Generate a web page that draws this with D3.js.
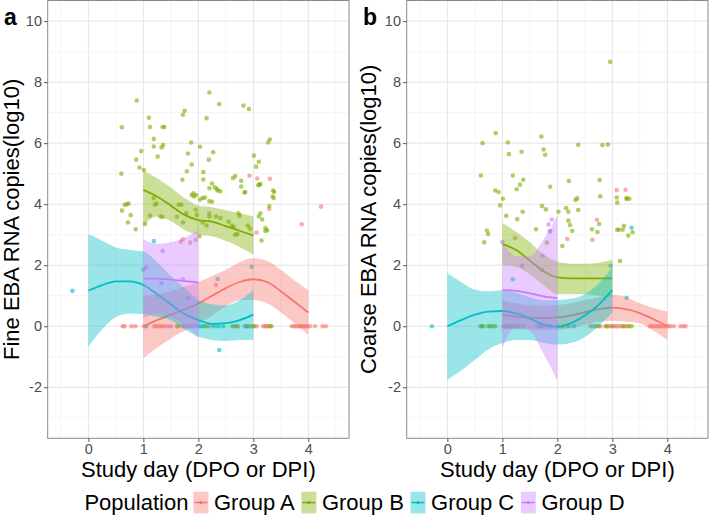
<!DOCTYPE html>
<html><head><meta charset="utf-8">
<script src="https://cdn.jsdelivr.net/npm/d3@7"></script>
<style>body{margin:0;background:#fff}svg{display:block;font-family:"Liberation Sans",Arial,sans-serif}</style>
</head><body>
<svg id="c" width="709" height="516"></svg>
<script>
// ---------- data ----------
const groups = ["Group A","Group B","Group C","Group D"];
const colors = ["#F8766D","#7CAE00","#00BFC4","#C77CFF"];
const xTicks = [0,1,2,3,4];
const yTicks = [-2,0,2,4,6,8,10];
const panelLabels = ["a","b"];
const yTitles = ["Fine EBA RNA copies(log10)","Coarse EBA RNA copies(log10)"];
const xTitle = "Study day (DPO or DPI)";
const legendTitle = "Population";

// Panel a (Fine) points [day, log10 copies]
const fineA = [[2.93,4.93],[3.07,4.84],[3.30,4.83],[2.2,3.7],[3.06,3.07],[3.29,3.84],[3.88,3.34],[4.23,3.92],[1.68,2.77],[1.72,2.85],[1.85,2.74],[1.95,2.83],[2.32,1.35],
 [0.625,0],[0.655,0],[0.78,0],[0.855,0],[1.01,0],[1.2,0],[1.24,0],[1.29,0],[1.33,0],[1.38,0],[2.9,0],[3.0,0],[3.06,0],[3.18,0],[3.21,0],[3.24,0],[3.27,0],
 [3.70,0],[3.74,0],[3.78,0],[3.82,0],[3.85,0],[3.88,0],[3.92,0],[3.95,0],[3.98,0],[4.03,0],[4.12,0],[4.26,0],[4.32,0],[2.66,0],[2.72,0],[2.2,0]];
const fineB = [[0.61,6.52],[0.60,5.0],[0.88,7.40],[0.87,5.46],[0.96,5.74],[0.93,5.20],[1.01,5.12],[1.10,6.83],[1.12,6.53],[1.19,6.14],[1.19,5.89],[1.26,5.56],[1.33,5.86],[1.36,5.94],[1.35,6.53],[1.38,6.53],[1.72,6.93],[1.75,7.06],[1.71,4.80],[1.79,5.08],[1.81,5.66],[1.87,6.02],[1.88,5.30],[1.91,4.36],[1.96,4.30],[2.03,5.88],[2.09,5.05],[2.09,4.81],[2.15,6.82],[2.20,7.66],[2.19,5.46],[2.25,4.68],[2.27,5.70],[2.30,4.55],[2.34,4.50],[2.20,4.52],[2.38,7.28],[2.63,4.86],[2.67,4.92],[2.78,4.77],[2.78,4.58],[2.84,4.38],[2.82,7.23],[2.92,7.12],[3.01,5.59],[3.05,5.23],[3.10,5.39],[3.09,4.62],[3.11,4.64],[3.13,4.66],[3.27,6.02],[3.30,6.12],[3.36,4.45],[3.35,4.25],
 [0.61,3.79],[0.66,3.98],[0.70,4.0],[0.73,4.02],[0.72,3.40],[0.77,3.64],[0.86,3.18],[1.03,3.35],[1.12,3.63],[1.19,4.2],[1.21,3.98],[1.24,4.02],[1.31,3.6],[1.35,3.58],[1.61,3.59],[1.64,3.98],[1.69,3.98],[1.72,3.4],[1.78,3.7],[1.88,4.3],[1.92,4.25],[1.95,3.82],[1.97,3.65],[2.03,4.15],[2.08,4.2],[2.12,4.22],[2.02,2.95],[2.08,3.40],[2.15,3.3],[2.2,4.1],[2.25,4.08],[2.2,3.6],[2.35,4.45],[2.4,4.42],[2.32,3.6],[2.4,3.55],[2.55,3.43],[2.61,3.3],[2.64,3.25],[2.67,3.0],[2.71,3.02],[2.73,3.7],[2.75,3.62],[2.85,4.4],[2.9,3.3],[2.94,3.2],[3.1,3.6],[3.13,3.7],[3.16,3.5],[3.22,3.22],[3.25,3.15],[3.22,3.12],[3.15,2.81],[3.29,3.94],[3.37,4.2],[3.38,4.4],
 [1.61,0],[1.64,0],[2.88,0],[2.95,0],[3.01,0],[3.30,0],[3.33,0],[2.62,0],[2.7,0],[2.1,0],[2.14,0]];
const fineC = [[-0.29,1.16],[1.19,2.79],[2.97,1.95],[2.35,1.55],[2.38,-0.78],[1.05,0],[2.0,0],[2.45,0],[2.85,0],[2.06,0],[2.28,0],[2.36,0]];
const fineD = [[1.35,2.47],[1.0,1.85],[1.05,1.93],[1.33,1.41],[1.72,1.54],[1.82,0.92],[1.72,0],[1.78,0],[1.85,0],[1.92,0],[2.0,0],[1.5,0],[1.45,0]];

// Panel b (Coarse) points
const coarseA = [[3.08,4.46],[3.24,4.47],[2.72,3.49],[2.64,2.83],[2.18,2.86],[1.23,2.89],
 [1.05,0],[1.15,0],[1.25,0],[2.6,0],[2.65,0],[2.78,0],[2.87,0],[2.92,0],[2.97,0],[3.03,0],[3.08,0],[3.12,0],[3.17,0],[3.22,0],[3.27,0],
 [3.68,0],[3.72,0],[3.76,0],[3.8,0],[3.84,0],[3.88,0],[3.92,0],[3.97,0],[4.02,0],[4.05,0],[4.12,0],[4.24,0],[4.29,0],[4.33,0]];
const coarseB = [[2.96,8.67],[0.64,6.0],[0.88,6.33],[1.10,6.02],[1.12,5.64],[1.35,5.72],[0.61,4.94],[1.19,4.94],[0.87,4.45],[0.93,4.40],[1.01,4.18],[1.32,4.64],[1.26,4.49],[1.38,4.80],[1.71,6.22],[1.75,5.79],[1.78,5.62],[1.87,4.57],[2.21,4.76],[2.38,5.95],[2.36,4.19],[2.77,4.79],[2.78,4.26],[2.82,5.94],[2.92,5.96],[3.08,4.22],[3.26,4.20],[3.31,4.18],
 [0.67,2.75],[0.72,3.14],[0.74,3.02],[0.96,3.96],[1.07,3.62],[1.27,3.51],[1.37,3.75],[1.61,3.18],[1.72,3.94],[1.79,3.83],[1.87,3.12],[1.81,2.74],[2.02,3.75],[2.09,2.63],[2.16,3.87],[2.2,3.75],[2.2,3.46],[2.23,3.32],[2.27,3.12],[2.33,4.14],[2.38,3.81],[2.63,3.18],[2.73,3.09],[2.76,3.35],[3.09,4.05],[3.09,3.16],[3.12,3.16],[3.19,3.16],[3.21,3.29],[3.14,2.14],[3.29,2.97],[3.37,3.08],[3.26,4.17],
 [0.6,0],[0.63,0],[0.65,0],[0.74,0],[0.78,0],[0.82,0],[0.87,0],[2.7,0],[2.75,0],[2.9,0],[3.0,0],[3.2,0],[3.3,0],[3.35,0],[2.1,0],[2.2,0]];
const coarseC = [[-0.28,0],[1.19,1.54],[3.35,3.23],[3.26,0.93],[2.97,1.98],[1.1,0],[1.7,0],[2.3,0]];
const coarseD = [[1.0,2.76],[1.84,3.33],[1.9,3.5],[1.36,1.98],[1.72,1.85],[1.73,2.31],[1.86,3.1],
 [1.02,0],[1.2,0],[1.3,0],[1.38,0],[1.63,0],[1.7,0],[1.78,0],[1.87,0],[2.0,0]];

// Smooth fits: day grid, fit, lower, upper
const gridA = [1,1.25,1.5,1.75,2,2.25,2.5,2.75,3,3.25,3.5,3.75,4];
const gridB = [1,1.25,1.5,1.75,2,2.25,2.5,2.75,3];
const gridC = [0,0.25,0.5,0.75,1,1.25,1.5,1.75,2,2.25,2.5,2.75,3];
const gridD = [1,1.25,1.5,1.75,2];

const fineFitA = [0.0,0.2,0.38,0.55,0.75,1.0,1.25,1.45,1.54,1.45,1.15,0.8,0.45];
const fineLoA  = [-1.05,-0.7,-0.4,-0.15,0.05,0.35,0.65,0.85,0.86,0.75,0.45,0.1,-0.28];
const fineHiA  = [1.0,1.05,1.15,1.3,1.45,1.65,1.85,2.1,2.23,2.15,1.85,1.5,1.19];
const fineFitB = [4.47,4.25,3.95,3.65,3.48,3.43,3.28,3.13,2.97];
const fineLoB  = [3.3,3.6,3.45,3.15,3.0,2.95,2.8,2.6,2.35];
const fineHiB  = [5.1,4.85,4.55,4.2,3.95,3.9,3.8,3.7,3.6];
const fineFitC = [1.17,1.35,1.47,1.47,1.35,1.05,0.72,0.4,0.2,0.08,0.1,0.2,0.38];
const fineLoC  = [-0.67,-0.1,0.3,0.42,0.4,0.3,0.2,-0.1,-0.34,-0.45,-0.48,-0.45,-0.45];
const fineHiC  = [3.02,2.8,2.58,2.5,2.45,2.1,1.65,1.25,0.86,0.72,0.68,0.85,1.19];
const fineFitD = [1.56,1.56,1.53,1.48,1.44];
const fineLoD  = [0.27,0.4,0.3,0.05,-0.39];
const fineHiD  = [2.85,2.7,2.75,2.9,3.15];

const coarseFitA = [0.37,0.32,0.28,0.27,0.29,0.36,0.46,0.56,0.61,0.56,0.43,0.23,0.0];
const coarseLoA  = [-0.1,-0.1,-0.1,-0.12,-0.12,-0.05,0.05,0.15,0.18,0.15,0.1,-0.15,-0.45];
const coarseHiA  = [0.85,0.75,0.68,0.68,0.7,0.75,0.85,0.95,1.03,0.95,0.75,0.6,0.48];
const coarseFitB = [2.69,2.5,2.15,1.8,1.6,1.57,1.57,1.57,1.57];
const coarseLoB  = [2.0,1.95,1.7,1.35,1.05,1.05,1.05,1.0,0.97];
const coarseHiB  = [3.38,3.1,2.75,2.35,2.12,2.05,2.05,2.08,2.17];
const coarseFitC = [0.0,0.2,0.38,0.48,0.5,0.42,0.25,0.05,-0.02,0.1,0.35,0.7,1.19];
const coarseLoC  = [-1.76,-1.45,-1.1,-0.75,-0.55,-0.45,-0.45,-0.55,-0.6,-0.55,-0.35,0.0,0.45];
const coarseHiC  = [1.74,1.45,1.2,1.15,1.18,1.1,0.95,0.85,0.86,0.9,1.05,1.4,1.93];
const coarseFitD = [1.19,1.16,1.08,0.98,0.92];
const coarseLoD  = [-0.72,0.0,-0.15,-0.9,-1.78];
const coarseHiD  = [2.75,2.3,2.3,2.85,3.62];

// ---------- build ----------
const grids = [gridA, gridB, gridC, gridD];
const panels = [
  {left:47.7, right:349, titleX:19, pts:[fineA,fineB,fineC,fineD],
   fits:[[fineFitA,fineLoA,fineHiA],[fineFitB,fineLoB,fineHiB],[fineFitC,fineLoC,fineHiC],[fineFitD,fineLoD,fineHiD]]},
  {left:406.7, right:708, titleX:376, pts:[coarseA,coarseB,coarseC,coarseD],
   fits:[[coarseFitA,coarseLoA,coarseHiA],[coarseFitB,coarseLoB,coarseHiB],[coarseFitC,coarseLoC,coarseHiC],[coarseFitD,coarseLoD,coarseHiD]]}
];
const pTop = 0.5, pBottom = 438.3;
const svg = d3.select("#c");

panels.forEach((p, pi) => {
  const x = d3.scaleLinear().domain([-0.74, 4.74]).range([p.left, p.right]);
  const y = d3.scaleLinear().domain([-3.672, 10.675]).range([pBottom, pTop]);
  const g = svg.append("g");
  g.append("rect").attr("x",p.left).attr("y",pTop).attr("width",p.right-p.left).attr("height",pBottom-pTop).attr("fill","#fff");
  const minorX = [-0.5,0.5,1.5,2.5,3.5,4.5], minorY = [-3,-1,1,3,5,7,9];
  g.append("g").selectAll("line").data(minorX).join("line").attr("x1",d=>x(d)).attr("x2",d=>x(d)).attr("y1",pTop).attr("y2",pBottom).attr("stroke","#f2f2f2").attr("stroke-width",0.8);
  g.append("g").selectAll("line").data(minorY).join("line").attr("y1",d=>y(d)).attr("y2",d=>y(d)).attr("x1",p.left).attr("x2",p.right).attr("stroke","#f2f2f2").attr("stroke-width",0.8);
  g.append("g").selectAll("line").data(xTicks).join("line").attr("x1",d=>x(d)).attr("x2",d=>x(d)).attr("y1",pTop).attr("y2",pBottom).attr("stroke","#e4e4e4").attr("stroke-width",1);
  g.append("g").selectAll("line").data(yTicks).join("line").attr("y1",d=>y(d)).attr("y2",d=>y(d)).attr("x1",p.left).attr("x2",p.right).attr("stroke","#e4e4e4").attr("stroke-width",1);

  p.pts.forEach((arr, gi) => {
    g.append("g").selectAll("circle").data(arr).join("circle")
      .attr("cx",d=>x(d[0])).attr("cy",d=>y(d[1])).attr("r",2.3)
      .attr("fill",colors[gi]).attr("fill-opacity",0.6);
  });
  p.fits.forEach((f, gi) => {
    const gx = grids[gi];
    const rows = gx.map((d,i)=>({x:d, fit:f[0][i], lo:f[1][i], hi:f[2][i]}));
    const area = d3.area().x(d=>x(d.x)).y0(d=>y(d.lo)).y1(d=>y(d.hi)).curve(d3.curveMonotoneX);
    const line = d3.line().x(d=>x(d.x)).y(d=>y(d.fit)).curve(d3.curveMonotoneX);
    g.append("path").datum(rows).attr("d",area).attr("fill",colors[gi]).attr("fill-opacity",0.4);
    g.append("path").datum(rows).attr("d",line).attr("fill","none").attr("stroke",colors[gi]).attr("stroke-width",1.8);
  });
  g.append("rect").attr("x",p.left).attr("y",pTop).attr("width",p.right-p.left).attr("height",pBottom-pTop)
    .attr("fill","none").attr("stroke","#8a8a8a").attr("stroke-width",1);

  const ax = g.append("g").attr("transform",`translate(0,${pBottom})`)
    .call(d3.axisBottom(x).tickValues(xTicks).tickSize(3.7).tickPadding(2).tickFormat(d3.format("d")));
  const ay = g.append("g").attr("transform",`translate(${p.left},0)`)
    .call(d3.axisLeft(y).tickValues(yTicks).tickSize(3.7).tickPadding(2).tickFormat(d=>d<0?"-"+Math.abs(d):d));
  [ax, ay].forEach(a => {
    a.select(".domain").remove();
    a.selectAll("line").attr("stroke","#555");
    a.selectAll("text").attr("fill","#4d4d4d").style("font-size","14.5px").style("font-family","Liberation Sans, Arial, sans-serif");
  });

  const cx = (p.left + p.right) / 2;
  g.append("text").attr("x",cx).attr("y",477).attr("text-anchor","middle").style("font-size","22px").attr("fill","#000").text(xTitle);
  g.append("text").attr("transform",`translate(${p.titleX},${(pTop+pBottom)/2}) rotate(-90)`).attr("text-anchor","middle")
    .style("font-size","22px").attr("fill","#000").text(yTitles[pi]);
  g.append("text").attr("x", pi===0 ? 4 : 363).attr("y",25).style("font-size","23px").style("font-weight","bold").attr("fill","#000").text(panelLabels[pi]);
});

// legend
const lg = svg.append("g");
const lt = lg.append("text").attr("x",0).attr("y",510).style("font-size","22px").attr("fill","#000").text(legendTitle);
let cur = lt.node().getComputedTextLength() + 5;
groups.forEach((name, i) => {
  const k = lg.append("g").attr("transform",`translate(${cur},491.7)`);
  k.append("rect").attr("width",15).attr("height",21.7).attr("fill",colors[i]).attr("fill-opacity",0.4);
  k.append("line").attr("x1",1).attr("x2",14).attr("y1",10.85).attr("y2",10.85).attr("stroke",colors[i]).attr("stroke-width",1.5);
  k.append("circle").attr("cx",7.5).attr("cy",10.85).attr("r",1.6).attr("fill",colors[i]);
  cur += 15 + 5.6;
  const t = lg.append("text").attr("x",cur).attr("y",510).style("font-size","22px").attr("fill","#000").text(name);
  cur += t.node().getComputedTextLength() + (i<3 ? 6.6 : 0);
});
lg.attr("transform",`translate(${(709-cur)/2},0)`);
</script>
</body></html>
